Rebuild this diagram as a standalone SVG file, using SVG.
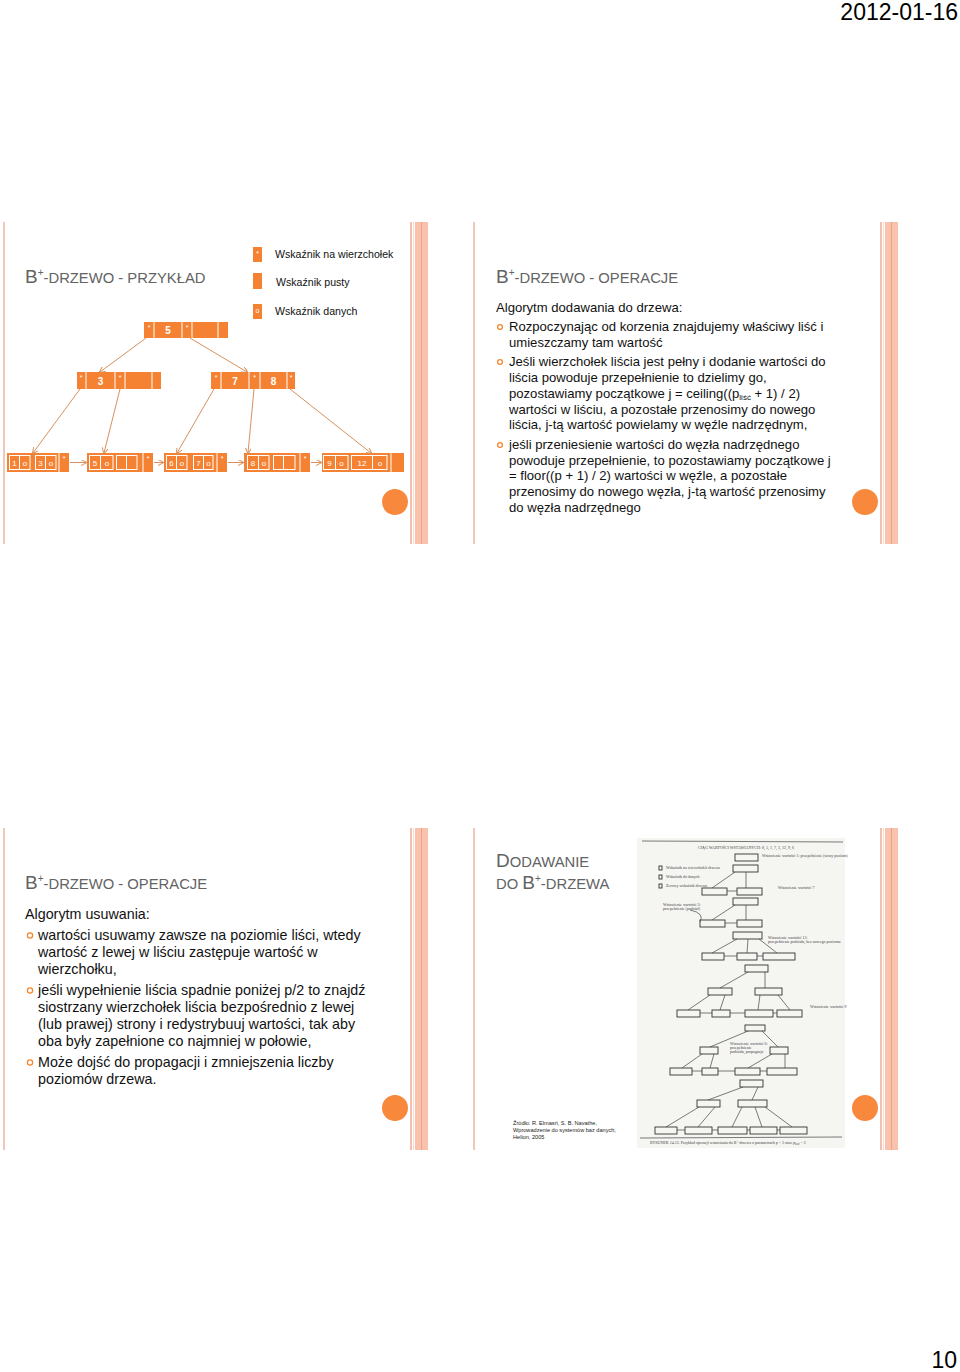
<svg xmlns="http://www.w3.org/2000/svg" width="960" height="1372" viewBox="0 0 960 1372">
<style>
text{font-family:"Liberation Sans",Arial,sans-serif}
.hdr{font-size:23px;fill:#000}
.ttl{fill:#636363;font-size:14.8px}
.big{font-size:19px}
.sup{font-size:10px}
.b2{font-size:13.1px;fill:#111}
.b3{font-size:14.3px;fill:#111}
.bul{fill:none;stroke:#f2862f;stroke-width:1.3}
.node{fill:#f58233}
.nk{fill:#fff;font-size:10px;font-weight:bold;text-anchor:middle}
.lk{fill:#fff;font-size:8px;text-anchor:middle}
.st{fill:#fff;font-size:7px;text-anchor:middle}
.sep{stroke:#fff;stroke-width:1}
.ib{fill:none;stroke:#fff;stroke-width:1}
.edge{stroke:#d8915c;stroke-width:1;fill:none;marker-end:url(#ah)}
.leg{font-size:10.6px;fill:#111}
.circ{fill:#f7883c}
.lineL{fill:#f1c7b9}
.sb{fill:none;stroke:#333;stroke-width:0.9}
.sl{stroke:#444;stroke-width:0.7;fill:none}
.tiny{font-family:"Liberation Serif",serif;font-size:4px;fill:#444}
.src{font-size:5.6px;fill:#222}
</style>
<defs>
<marker id="ah" markerWidth="6" markerHeight="6" refX="5" refY="3" orient="auto" markerUnits="userSpaceOnUse">
<path d="M0,0 L6,3 L0,6" fill="none" stroke="#d8915c" stroke-width="1"/>
</marker>
<g id="band">
<rect x="0" y="0" width="2" height="322" fill="#f1c0b0"/>
<rect x="3" y="0" width="1" height="322" fill="#f7dcd2"/>
<rect x="5" y="0" width="13" height="322" fill="#f8c2ad"/>
<rect x="11" y="0" width="1" height="322" fill="#eea08a"/>
</g>
</defs>
<rect width="960" height="1372" fill="#fff"/>
<text class="hdr" x="958" y="20" text-anchor="end">2012-01-16</text>
<text class="hdr" x="957" y="1368" text-anchor="end" font-size="22">10</text>

<!-- slide frames -->
<g id="frames">
<rect class="lineL" x="3" y="222" width="2" height="322"/>
<use href="#band" x="410" y="222"/>
<rect class="lineL" x="473" y="222" width="2" height="322"/>
<use href="#band" x="880" y="222"/>
<rect class="lineL" x="3" y="828" width="2" height="322"/>
<use href="#band" x="410" y="828"/>
<rect class="lineL" x="473" y="828" width="2" height="322"/>
<use href="#band" x="880" y="828"/>
<circle class="circ" cx="395" cy="502" r="13"/>
<circle class="circ" cx="865" cy="502" r="13"/>
<circle class="circ" cx="395" cy="1108" r="13"/>
<circle class="circ" cx="865" cy="1108" r="13"/>
</g>

<!-- slide 1 -->
<g id="slide1-title"><text class="ttl" x="25" y="283"><tspan class="big">B</tspan><tspan class="sup" dy="-7">+</tspan><tspan dy="7">-DRZEWO - PRZYKŁAD</tspan></text></g>

<g id="legend">
<rect class="node" x="253" y="247" width="9" height="15"/><text class="st" x="257.5" y="256">*</text>
<rect class="node" x="253" y="273" width="9" height="16"/>
<rect class="node" x="253" y="304" width="9" height="15"/><text class="st" x="257.5" y="313">o</text>
<text class="leg" x="275" y="258">Wskaźnik na wierzchołek</text>
<text class="leg" x="276" y="286">Wskaźnik pusty</text>
<text class="leg" x="275" y="315">Wskaźnik danych</text>
</g>

<g id="root">
<rect class="node" x="144" y="322" width="84" height="16"/>
<line class="sep" x1="154" y1="322" x2="154" y2="338"/><line class="sep" x1="182" y1="322" x2="182" y2="338"/>
<line class="sep" x1="192" y1="322" x2="192" y2="338"/><line class="sep" x1="218" y1="322" x2="218" y2="338"/>
<text class="st" x="149" y="330">*</text><text class="nk" x="168" y="334">5</text><text class="st" x="187" y="330">*</text>
</g>
<g id="inner-left">
<rect class="node" x="77" y="372" width="84" height="17"/>
<line class="sep" x1="86" y1="372" x2="86" y2="389"/><line class="sep" x1="115" y1="372" x2="115" y2="389"/>
<line class="sep" x1="125" y1="372" x2="125" y2="389"/><line class="sep" x1="152" y1="372" x2="152" y2="389"/>
<text class="st" x="81" y="380">*</text><text class="nk" x="100.5" y="385">3</text><text class="st" x="120" y="380">*</text>
</g>
<g id="inner-right">
<rect class="node" x="211" y="372" width="84" height="17"/>
<line class="sep" x1="221" y1="372" x2="221" y2="389"/><line class="sep" x1="249" y1="372" x2="249" y2="389"/>
<line class="sep" x1="260" y1="372" x2="260" y2="389"/><line class="sep" x1="287" y1="372" x2="287" y2="389"/>
<text class="st" x="216" y="380">*</text><text class="nk" x="235" y="385">7</text><text class="st" x="254.5" y="380">*</text><text class="nk" x="273.5" y="385">8</text><text class="st" x="291" y="380">*</text>
</g>
<g id="leaf1">
<rect class="node" x="7" y="453" width="62" height="19"/>
<rect class="ib" x="9.5" y="455.5" width="20.5" height="14"/><line class="sep" x1="19.5" y1="455" x2="19.5" y2="470"/>
<rect class="ib" x="35.5" y="455.5" width="20.5" height="14"/><line class="sep" x1="45.5" y1="455" x2="45.5" y2="470"/>
<line class="sep" x1="59" y1="453" x2="59" y2="472"/>
<text class="lk" x="14.5" y="466">1</text><text class="lk" x="25" y="466">o</text><text class="lk" x="40.5" y="466">3</text><text class="lk" x="51" y="466">o</text><text class="st" x="64" y="461">*</text>
</g>
<g id="leaf2">
<rect class="node" x="87" y="453" width="66" height="19"/>
<rect class="ib" x="89.5" y="455.5" width="23.5" height="14"/><line class="sep" x1="100.5" y1="455" x2="100.5" y2="470"/>
<rect class="ib" x="116.5" y="455.5" width="20.5" height="14"/><line class="sep" x1="126.5" y1="455" x2="126.5" y2="470"/>
<line class="sep" x1="143" y1="453" x2="143" y2="472"/>
<text class="lk" x="95" y="466">5</text><text class="lk" x="107" y="466">o</text><text class="st" x="148" y="461">*</text>
</g>
<g id="leaf3">
<rect class="node" x="164" y="453" width="63" height="19"/>
<rect class="ib" x="166.5" y="455.5" width="20.5" height="14"/><line class="sep" x1="176.5" y1="455" x2="176.5" y2="470"/>
<rect class="ib" x="193.5" y="455.5" width="19.5" height="14"/><line class="sep" x1="203.5" y1="455" x2="203.5" y2="470"/>
<line class="sep" x1="217" y1="453" x2="217" y2="472"/>
<text class="lk" x="171.5" y="466">6</text><text class="lk" x="182" y="466">o</text><text class="lk" x="198.5" y="466">7</text><text class="lk" x="208.5" y="466">o</text><text class="st" x="222" y="461">*</text>
</g>
<g id="leaf4">
<rect class="node" x="244" y="453" width="66" height="19"/>
<rect class="ib" x="247.5" y="455.5" width="21.5" height="14"/><line class="sep" x1="258.5" y1="455" x2="258.5" y2="470"/>
<rect class="ib" x="273.5" y="455.5" width="21.5" height="14"/><line class="sep" x1="283.5" y1="455" x2="283.5" y2="470"/>
<line class="sep" x1="300" y1="453" x2="300" y2="472"/>
<text class="lk" x="253" y="466">8</text><text class="lk" x="264" y="466">o</text><text class="st" x="305" y="461">*</text>
</g>
<g id="leaf5">
<rect class="node" x="322" y="453" width="82" height="19"/>
<rect class="ib" x="323.5" y="455.5" width="24.5" height="14"/><line class="sep" x1="335.5" y1="455" x2="335.5" y2="470"/>
<rect class="ib" x="351.5" y="455.5" width="35.5" height="14"/><line class="sep" x1="372.5" y1="455" x2="372.5" y2="470"/>
<line class="sep" x1="391" y1="453" x2="391" y2="472"/>
<text class="lk" x="329.5" y="466">9</text><text class="lk" x="341.5" y="466">o</text><text class="lk" x="362" y="466">12</text><text class="lk" x="380" y="466">o</text>
</g>

<g id="connectors">
<line class="edge" x1="146" y1="338" x2="100" y2="372"/>
<line class="edge" x1="190" y1="338" x2="247" y2="372"/>
<line class="edge" x1="80" y1="389" x2="33" y2="453"/>
<line class="edge" x1="120" y1="389" x2="104" y2="453"/>
<line class="edge" x1="214" y1="389" x2="177" y2="453"/>
<line class="edge" x1="254" y1="389" x2="248" y2="453"/>
<line class="edge" x1="290" y1="389" x2="371" y2="453"/>
<line class="edge" x1="70" y1="462.5" x2="86" y2="462.5"/>
<line class="edge" x1="154" y1="462.5" x2="163" y2="462.5"/>
<line class="edge" x1="228" y1="462.5" x2="243" y2="462.5"/>
<line class="edge" x1="311" y1="462.5" x2="321" y2="462.5"/>
</g>

<!-- slide 2 -->
<g id="slide2">
<text class="ttl" x="496" y="283"><tspan class="big">B</tspan><tspan class="sup" dy="-7">+</tspan><tspan dy="7">-DRZEWO - OPERACJE</tspan></text>
<text class="b2" x="496" y="312">Algorytm dodawania do drzewa:</text>
<circle class="bul" cx="500" cy="327" r="2.4"/>
<circle class="bul" cx="500" cy="362" r="2.4"/>
<circle class="bul" cx="500" cy="445" r="2.4"/>
<text class="b2" x="509" y="331">Rozpoczynając od korzenia znajdujemy właściwy liść i</text>
<text class="b2" x="509" y="347">umieszczamy tam wartość</text>
<text class="b2" x="509" y="366">Jeśli wierzchołek liścia jest pełny i dodanie wartości do</text>
<text class="b2" x="509" y="382">liścia powoduje przepełnienie to dzielimy go,</text>
<text class="b2" x="509" y="398">pozostawiamy początkowe j = ceiling((p<tspan font-size="8" dy="2">liść</tspan><tspan dy="-2"> + 1) / 2)</tspan></text>
<text class="b2" x="509" y="414">wartości w liściu, a pozostałe przenosimy do nowego</text>
<text class="b2" x="509" y="429">liścia, j-tą wartość powielamy w węźle nadrzędnym,</text>
<text class="b2" x="509" y="449">jeśli przeniesienie wartości do węzła nadrzędnego</text>
<text class="b2" x="509" y="465">powoduje przepełnienie, to pozostawiamy początkowe j</text>
<text class="b2" x="509" y="480">= floor((p + 1) / 2) wartości w węźle, a pozostałe</text>
<text class="b2" x="509" y="496">przenosimy do nowego węzła, j-tą wartość przenosimy</text>
<text class="b2" x="509" y="512">do węzła nadrzędnego</text>
</g>

<!-- slide 3 -->
<g id="slide3">
<text class="ttl" x="25" y="889"><tspan class="big">B</tspan><tspan class="sup" dy="-7">+</tspan><tspan dy="7">-DRZEWO - OPERACJE</tspan></text>
<text class="b3" x="25" y="919">Algorytm usuwania:</text>
<circle class="bul" cx="30" cy="935.5" r="2.6"/>
<circle class="bul" cx="30" cy="990.5" r="2.6"/>
<circle class="bul" cx="30" cy="1062.5" r="2.6"/>
<text class="b3" x="38" y="940">wartości usuwamy zawsze na poziomie liści, wtedy</text>
<text class="b3" x="38" y="957">wartość z lewej w liściu zastępuje wartość w</text>
<text class="b3" x="38" y="974">wierzchołku,</text>
<text class="b3" x="38" y="995">jeśli wypełnienie liścia spadnie poniżej p/2 to znajdź</text>
<text class="b3" x="38" y="1012">siostrzany wierzchołek liścia bezpośrednio z lewej</text>
<text class="b3" x="38" y="1029">(lub prawej) strony i redystrybuuj wartości, tak aby</text>
<text class="b3" x="38" y="1046">oba były zapełnione co najmniej w połowie,</text>
<text class="b3" x="38" y="1067">Może dojść do propagacji i zmniejszenia liczby</text>
<text class="b3" x="38" y="1084">poziomów drzewa.</text>
</g>

<!-- slide 4 -->
<g id="slide4">
<text class="ttl" x="496" y="867"><tspan class="big">D</tspan>ODAWANIE</text>
<text class="ttl" x="496" y="889">DO <tspan class="big">B</tspan><tspan class="sup" dy="-7">+</tspan><tspan dy="7">-DRZEWA</tspan></text>
<text class="src" x="513" y="1125">Źródło: R. Elmasri, S. B. Navathe,</text>
<text class="src" x="513" y="1132">Wprowadzenie do systemów baz danych,</text>
<text class="src" x="513" y="1139">Helion, 2005</text>
</g>

<g id="scan">
<rect x="637" y="838" width="208" height="310" fill="#f5f5f2"/>
<line class="sl" x1="642" y1="841" x2="843" y2="842"/>
<text class="tiny" x="698" y="849">CIĄG WARTOŚCI WSTAWIANYCH: 8, 5, 1, 7, 3, 12, 9, 6</text>
<rect class="sb" x="735" y="854" width="23" height="7"/>
<text class="tiny" x="762" y="857">Wstawienie wartości 1: przepełnienie (nowy poziom)</text>
<rect class="sb" x="659" y="866" width="3" height="4"/><text class="tiny" x="666" y="869">Wskaźnik na wierzchołek drzewa</text>
<rect class="sb" x="659" y="875" width="3" height="4"/><text class="tiny" x="666" y="878">Wskaźnik do danych</text>
<rect class="sb" x="659" y="884" width="3" height="4"/><text class="tiny" x="666" y="887">Zerowy wskaźnik drzewa</text>
<rect class="sb" x="733" y="865" width="25" height="7"/>
<rect class="sb" x="702" y="888" width="25" height="7"/><rect class="sb" x="737" y="888" width="25" height="7"/>
<text class="tiny" x="778" y="889">Wstawienie wartości 7</text>
<rect class="sb" x="733" y="898" width="25" height="7"/>
<text class="tiny" x="663" y="906">Wstawienie wartości 3:</text><text class="tiny" x="663" y="910">przepełnienie (podział)</text>
<rect class="sb" x="700" y="920" width="25" height="7"/><rect class="sb" x="737" y="920" width="25" height="7"/>
<rect class="sb" x="733" y="932" width="29" height="7"/>
<text class="tiny" x="768" y="939">Wstawienie wartości 12:</text><text class="tiny" x="768" y="943">przepełnienie podziału, bez nowego poziomu</text>
<rect class="sb" x="702" y="953" width="22" height="7"/><rect class="sb" x="737" y="953" width="20" height="7"/><rect class="sb" x="763" y="953" width="32" height="7"/>
<rect class="sb" x="745" y="965" width="23" height="7"/>
<rect class="sb" x="708" y="988" width="24" height="7"/><rect class="sb" x="755" y="988" width="27" height="7"/>
<rect class="sb" x="677" y="1010" width="23" height="7"/><rect class="sb" x="712" y="1010" width="18" height="7"/><rect class="sb" x="745" y="1010" width="28" height="7"/><rect class="sb" x="777" y="1010" width="25" height="7"/>
<text class="tiny" x="810" y="1008">Wstawienie wartości 9</text>
<rect class="sb" x="745" y="1025" width="20" height="6"/>
<rect class="sb" x="700" y="1047" width="18" height="7"/><rect class="sb" x="770" y="1047" width="18" height="7"/>
<text class="tiny" x="730" y="1045">Wstawienie wartości 6:</text><text class="tiny" x="730" y="1049">przepełnienie</text><text class="tiny" x="730" y="1053">podziału, propagacja</text>
<rect class="sb" x="670" y="1068" width="22" height="7"/><rect class="sb" x="702" y="1068" width="16" height="7"/><rect class="sb" x="735" y="1068" width="25" height="7"/><rect class="sb" x="767" y="1068" width="30" height="7"/>
<rect class="sb" x="740" y="1080" width="23" height="7"/>
<rect class="sb" x="697" y="1100" width="23" height="7"/><rect class="sb" x="738" y="1100" width="29" height="7"/>
<rect class="sb" x="655" y="1127" width="22" height="7"/><rect class="sb" x="685" y="1127" width="27" height="7"/><rect class="sb" x="718" y="1127" width="29" height="7"/><rect class="sb" x="750" y="1127" width="27" height="7"/><rect class="sb" x="780" y="1127" width="27" height="7"/>
<g class="sl">
<path d="M735,872 L712,888 M746,872 L746,888 M727,891 L737,891"/>
<path d="M735,905 L712,920 M746,905 L746,920 M725,923 L737,923 M690,910 Q705,913 700,922"/>
<path d="M737,939 L712,953 M748,939 L747,953 M759,939 L777,953 M724,956 L737,956 M757,956 L763,956"/>
<path d="M748,972 L720,988 M765,972 L765,988 M710,995 L688,1010 M725,995 L720,1010 M760,995 L758,1010 M778,995 L790,1010 M700,1013 L712,1013 M730,1013 L745,1013 M773,1013 L777,1013"/>
<path d="M748,1031 L710,1047 M762,1031 L778,1047 M702,1054 L682,1068 M714,1054 L710,1068 M772,1054 L748,1068 M785,1054 L785,1068 M692,1071 L702,1071 M718,1071 L735,1071 M760,1071 L767,1071"/>
<path d="M743,1087 L708,1100 M758,1087 L752,1100 M699,1107 L666,1127 M715,1107 L698,1127 M742,1107 L732,1127 M755,1107 L762,1127 M765,1107 L792,1127 M677,1130 L685,1130 M712,1130 L718,1130 M747,1130 L750,1130 M777,1130 L780,1130"/>
</g>
<line class="sl" x1="640" y1="1138" x2="842" y2="1137"/>
<text class="tiny" x="650" y="1144">RYSUNEK 14.12. Przykład operacji wstawiania do B<tspan font-size="3" dy="-1.5">+</tspan><tspan dy="1.5">-drzewa o parametrach p = 3 oraz p</tspan><tspan font-size="3" dy="1">leaf</tspan><tspan dy="-1"> = 2</tspan></text>
</g>
</svg>
